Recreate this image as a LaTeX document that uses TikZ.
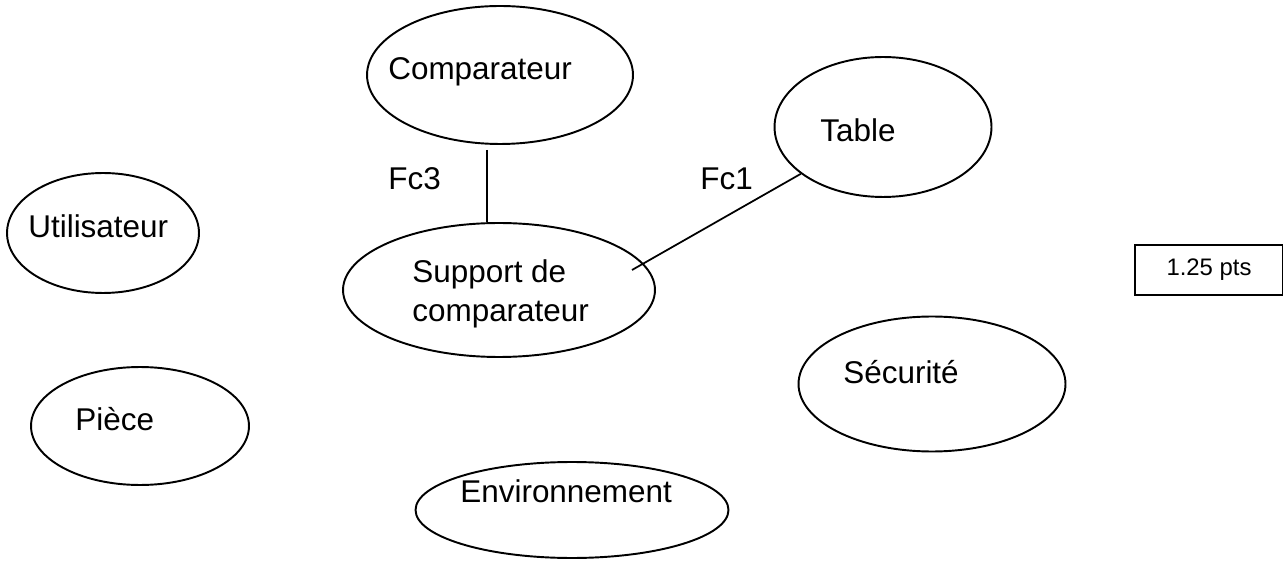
\documentclass[tikz,border=0pt]{standalone}
\usepackage{fontspec}
\setmainfont{Liberation Sans}
\usetikzlibrary{positioning,shapes.geometric}
\tikzset{
  bubble/.style={draw, ellipse, line width=1.1pt, inner sep=0pt},
  pointsbox/.style={draw, line width=0.9pt, minimum width=2.96cm, minimum height=1cm, inner sep=0pt, font=\fontsize{13.6}{16}\selectfont},
  bubbletext/.style={font=\fontsize{17.9}{21}\selectfont, inner sep=0pt, anchor=base west, align=left},
  contact/.style={line width=1pt}
}
\begin{document}
\begin{tikzpicture}[x=0.02cm, y=-0.02cm]
  \useasboundingbox (0,0) rectangle (1283,563);
  \node[bubble, minimum width=5.32cm, minimum height=2.76cm] (comp) at (500,75) {};
  \node[bubble, minimum width=4.34cm, minimum height=2.80cm] (table) at (883,127) {};
  \node[bubble, minimum width=3.84cm, minimum height=2.40cm] (user) at (103,233) {};
  \node[bubble, minimum width=6.24cm, minimum height=2.68cm] (support) at (499,290) {};
  \node[bubble, minimum width=5.34cm, minimum height=2.70cm] (safety) at (932,384) {};
  \node[bubble, minimum width=4.36cm, minimum height=2.36cm] (part) at (140,426) {};
  \node[bubble, minimum width=6.26cm, minimum height=1.92cm] (env) at (572,510) {};
  \node[pointsbox] (pts) at (1209,270) {1.25 pts};
  \node[bubbletext] (comp-t) at (388,80) {Comparateur};
  \node[bubbletext] (table-t) at (820,142) {Table};
  \node[bubbletext] (user-t) at (28,238) {Utilisateur};
  \node[bubbletext, font=\fontsize{17.9}{22.2}\selectfont] (support-t) at (412,322) {Support de\\comparateur};
  \node[bubbletext] (safety-t) at (843,383) {Sécurité};
  \node[bubbletext] (part-t) at (75,430) {Pièce};
  \node[bubbletext] (env-t) at (460,502) {Environnement};
  \node[bubbletext] (fc3) at (388,190) {Fc3};
  \node[bubbletext] (fc1) at (700,190) {Fc1};
  \coordinate (fc3-end) at (487,150);
  \coordinate (fc1-end) at (632,270);
  \draw[contact] (fc3-end) -- (fc3-end |- support.north);
  \draw[contact] (fc1-end) -- (table);
\end{tikzpicture}
\end{document}
